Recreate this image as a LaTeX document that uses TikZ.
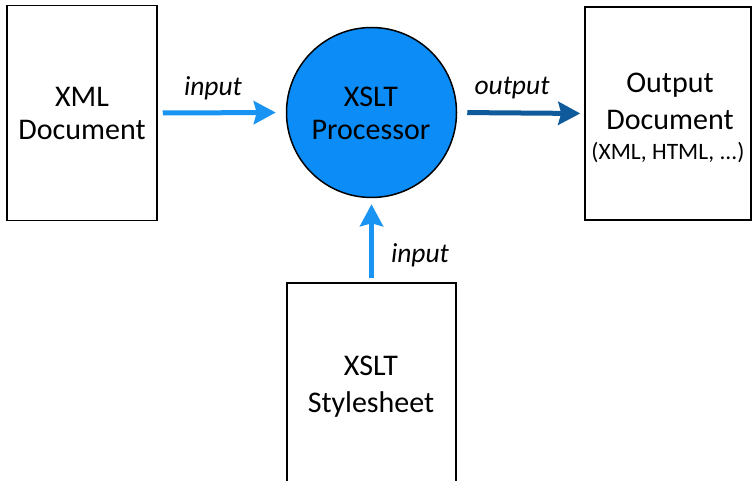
\documentclass[tikz,border=0pt]{standalone}
\usepackage{fontspec}
\setmainfont{Carlito}
\usetikzlibrary{arrows.meta}
\definecolor{lightflow}{HTML}{1A94F2}
\definecolor{darkflow}{HTML}{0E5A9A}
\definecolor{procfill}{HTML}{0B8CF6}
\tikzset{
  docbox/.style={draw=black, line width=1.5pt, fill=white, inner sep=0pt},
  procnode/.style={circle, draw=black, line width=1.5pt, fill=procfill, minimum size=170pt, inner sep=0pt},
  bigtext/.style={anchor=base, inner sep=0pt, font=\fontsize{30}{33}\selectfont},
  smalltext/.style={anchor=base, inner sep=0pt, font=\fontsize{23.5}{26}\selectfont},
  flowlabel/.style={anchor=base, inner sep=0pt, font=\fontsize{27.5}{30}\selectfont\itshape},
  flow/.style={line width=5pt, -{Stealth[length=22pt,width=23pt,inset=3pt]}},
}
\begin{document}
\begin{tikzpicture}[x=1pt,y=-1pt]
\useasboundingbox (0,0) rectangle (752,481);

% boxes and the processor
\node[docbox, minimum width=150pt, minimum height=215pt] (xml) at (82,113) {};
\node[procnode] (proc) at (371.5,112.5) {};
\node[docbox, minimum width=166pt, minimum height=213pt] (out) at (668,113.5) {};
\node[docbox, minimum width=169pt, minimum height=220pt] (xsl) at (371.5,393) {};

% texts inside the shapes
\node[bigtext] (xmlA) at (82,107) {XML};
\node[bigtext] (xmlB) at (82,140) {Document};
\node[bigtext] (procA) at (371,107) {XSLT};
\node[bigtext] (procB) at (371,140) {Processor};
\node[bigtext] (outA) at (670,93) {Output};
\node[bigtext] (outB) at (670,130) {Document};
\node[smalltext] (outC) at (668,160) {(XML, HTML, ...)};
\node[bigtext] (xslA) at (371,375) {XSLT};
\node[bigtext] (xslB) at (371,412) {Stylesheet};

% connectors
\draw[flow, lightflow, shorten <=5pt, shorten >=10pt] (xml.east) -- (proc.west);
\draw[flow, darkflow, shorten <=10pt, shorten >=4pt] (proc.east) -- (out.west);
\draw[flow, lightflow, shorten <=4pt, shorten >=6pt] (xsl.north) -- (proc.south);

% connector labels
\node[flowlabel] (lblA) at (213,96) {input};
\node[flowlabel] (lblB) at (512,95) {output};
\node[flowlabel] (lblC) at (420,262) {input};
\end{tikzpicture}
\end{document}
